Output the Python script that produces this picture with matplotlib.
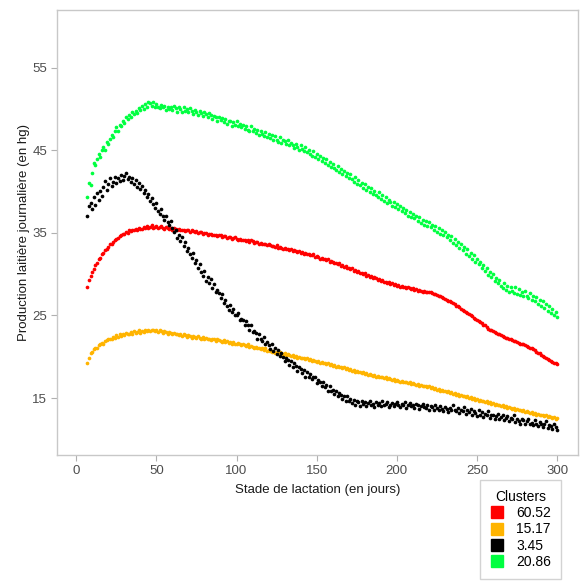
import matplotlib
matplotlib.use("Agg")
import matplotlib.pyplot as plt
from matplotlib.lines import Line2D
import numpy as np

plt.rcParams.update({
    "font.family": ["Liberation Sans", "DejaVu Sans"],
    "font.size": 9.5,
})

# lactation day (x) for every series
days = np.arange(7, 301)

cluster_labels = ["60.52", "15.17", "3.45", "20.86"]
cluster_colors = ["#FF0000", "#FFB400", "#000000", "#00FF40"]

# daily milk yield (hg) per cluster
red = [
    28.5, 29.3, 29.8, 30.3, 30.6, 31.1, 31.4, 31.8, 32.0, 32.4,
    32.6, 32.9, 33.1, 33.3, 33.6, 33.7, 33.9, 34.2, 34.3, 34.4,
    34.6, 34.8, 34.9, 34.9, 35.1, 35.0, 35.3, 35.2, 35.4, 35.3,
    35.5, 35.4, 35.6, 35.5, 35.5, 35.7, 35.6, 35.8, 35.6, 35.7,
    35.9, 35.6, 35.7, 35.8, 35.6, 35.7, 35.8, 35.6, 35.5, 35.7,
    35.6, 35.5, 35.6, 35.4, 35.6, 35.5, 35.4, 35.5, 35.3, 35.4,
    35.4, 35.2, 35.3, 35.3, 35.1, 35.3, 35.2, 35.1, 35.2, 35.0,
    35.1, 35.1, 34.9, 35.0, 35.0, 34.8, 34.9, 34.9, 34.7, 34.8,
    34.8, 34.6, 34.7, 34.7, 34.5, 34.6, 34.6, 34.4, 34.5, 34.5,
    34.3, 34.4, 34.5, 34.3, 34.2, 34.3, 34.1, 34.2, 34.2, 34.0,
    34.1, 33.9, 34.1, 34.0, 33.8, 33.9, 33.9, 33.7, 33.8, 33.6,
    33.7, 33.7, 33.5, 33.6, 33.5, 33.4, 33.4, 33.3, 33.5, 33.2,
    33.3, 33.2, 33.1, 33.2, 33.0, 33.1, 32.9, 33.0, 32.8, 32.9,
    32.8, 32.7, 32.8, 32.6, 32.7, 32.5, 32.6, 32.4, 32.5, 32.3,
    32.3, 32.4, 32.1, 32.2, 32.1, 31.9, 32.0, 31.8, 31.9, 31.7,
    31.8, 31.5, 31.6, 31.5, 31.3, 31.4, 31.2, 31.3, 31.0, 31.1,
    30.9, 31.0, 30.7, 30.8, 30.6, 30.7, 30.4, 30.5, 30.3, 30.4,
    30.1, 30.2, 30.0, 30.1, 29.8, 29.9, 29.7, 29.8, 29.5, 29.6,
    29.5, 29.3, 29.4, 29.2, 29.3, 29.0, 29.1, 28.9, 29.0, 28.8,
    28.9, 28.7, 28.8, 28.6, 28.7, 28.5, 28.6, 28.4, 28.5, 28.3,
    28.4, 28.3, 28.2, 28.3, 28.1, 28.2, 28.0, 28.1, 28.0, 27.9,
    28.0, 27.9, 27.9, 27.8, 27.8, 27.7, 27.6, 27.6, 27.5, 27.4,
    27.3, 27.2, 27.1, 27.0, 26.9, 26.8, 26.7, 26.6, 26.5, 26.4,
    26.2, 26.1, 26.0, 25.8, 25.7, 25.6, 25.4, 25.3, 25.2, 25.0,
    24.9, 24.7, 24.6, 24.5, 24.3, 24.2, 24.1, 23.9, 23.8, 23.6,
    23.4, 23.3, 23.2, 23.1, 23.0, 22.9, 22.8, 22.7, 22.6, 22.5,
    22.4, 22.3, 22.3, 22.2, 22.1, 22.0, 21.9, 21.9, 21.8, 21.7,
    21.6, 21.6, 21.5, 21.4, 21.3, 21.2, 21.1, 21.0, 20.9, 20.8,
    20.6, 20.5, 20.4, 20.2, 20.1, 20.0, 19.8, 19.7, 19.6, 19.5,
    19.4, 19.2, 19.3, 19.1,
]

orange = [
    19.2, 19.9, 20.4, 20.6, 20.9, 21.1, 21.0, 21.4, 21.5, 21.7,
    21.6, 21.9, 22.0, 22.1, 22.2, 22.1, 22.4, 22.3, 22.6, 22.4,
    22.7, 22.5, 22.8, 22.6, 22.9, 22.7, 22.8, 23.0, 22.8, 23.1,
    22.9, 23.0, 23.2, 22.9, 23.1, 23.0, 23.2, 23.1, 23.3, 23.1,
    23.2, 23.3, 23.1, 23.2, 23.0, 23.2, 23.1, 22.9, 23.1, 23.0,
    22.8, 23.0, 22.9, 22.8, 22.9, 22.7, 22.8, 22.6, 22.8, 22.5,
    22.7, 22.6, 22.4, 22.6, 22.5, 22.3, 22.5, 22.4, 22.3, 22.5,
    22.3, 22.2, 22.4, 22.2, 22.3, 22.1, 22.2, 22.0, 22.2, 22.1,
    21.9, 22.1, 22.0, 21.9, 21.8, 22.0, 21.8, 21.9, 21.7, 21.8,
    21.6, 21.8, 21.6, 21.5, 21.7, 21.5, 21.4, 21.6, 21.4, 21.3,
    21.5, 21.2, 21.3, 21.2, 21.1, 21.2, 21.0, 21.1, 20.9, 21.0,
    20.8, 21.0, 20.7, 20.8, 20.7, 20.6, 20.7, 20.5, 20.6, 20.4,
    20.6, 20.4, 20.3, 20.4, 20.2, 20.3, 20.2, 20.1, 20.2, 20.0,
    20.1, 19.9, 20.0, 19.9, 19.8, 19.9, 19.7, 19.8, 19.6, 19.7,
    19.5, 19.6, 19.5, 19.4, 19.5, 19.3, 19.4, 19.2, 19.3, 19.1,
    19.2, 19.0, 19.1, 18.9, 19.0, 18.8, 18.9, 18.7, 18.8, 18.6,
    18.7, 18.5, 18.6, 18.4, 18.5, 18.3, 18.4, 18.2, 18.3, 18.1,
    18.2, 18.0, 18.1, 17.9, 18.0, 17.8, 17.9, 17.8, 17.7, 17.8,
    17.6, 17.7, 17.5, 17.6, 17.5, 17.4, 17.5, 17.3, 17.4, 17.3,
    17.2, 17.3, 17.1, 17.2, 17.1, 17.0, 17.1, 16.9, 17.0, 16.9,
    16.8, 16.9, 16.7, 16.8, 16.7, 16.6, 16.7, 16.5, 16.6, 16.5,
    16.4, 16.5, 16.3, 16.4, 16.2, 16.3, 16.1, 16.2, 16.0, 16.1,
    15.9, 16.0, 15.8, 15.9, 15.7, 15.8, 15.6, 15.7, 15.5, 15.6,
    15.4, 15.5, 15.3, 15.4, 15.2, 15.3, 15.1, 15.2, 15.0, 15.1,
    14.9, 15.0, 14.8, 14.9, 14.7, 14.8, 14.6, 14.7, 14.5, 14.6,
    14.4, 14.5, 14.3, 14.4, 14.2, 14.3, 14.1, 14.2, 14.0, 14.1,
    13.9, 14.0, 13.8, 13.9, 13.8, 13.7, 13.8, 13.6, 13.7, 13.5,
    13.6, 13.4, 13.5, 13.3, 13.4, 13.3, 13.2, 13.3, 13.1, 13.2,
    13.0, 13.1, 12.9, 13.0, 12.9, 12.8, 12.9, 12.7, 12.8, 12.7,
    12.6, 12.7, 12.5, 12.6,
]

black = [
    37.1, 38.2, 38.6, 37.9, 39.3, 38.4, 39.8, 39.0, 40.1, 39.5,
    40.6, 41.3, 40.2, 40.9, 41.6, 40.7, 41.2, 41.8, 41.0, 41.7,
    41.3, 42.0, 41.4, 41.9, 42.3, 41.5, 41.8, 41.2, 41.7, 40.9,
    41.4, 40.6, 41.0, 40.3, 40.7, 39.8, 40.2, 39.4, 39.7, 38.9,
    39.2, 38.5, 38.0, 38.6, 37.7, 37.3, 37.9, 37.0, 36.6, 37.1,
    36.3, 35.9, 36.4,
    35.6, 35.1, 35.3, 34.4, 34.8, 34.0, 34.5, 33.4, 33.9, 32.8,
    33.2, 32.5, 32.0, 32.6, 31.4, 31.7, 30.8, 31.2, 30.3, 29.8,
    30.4, 29.2, 29.6, 28.9, 29.4, 28.3, 28.8, 27.8, 28.1, 27.7,
    27.1, 27.6, 26.5, 26.9, 26.2, 25.7, 26.3, 25.4, 25.8, 25.1,
    25.0, 25.3, 24.4, 24.6, 24.5, 23.8, 24.3, 23.9, 23.2, 23.8,
    23.0, 23.1, 22.9, 22.2, 22.8, 22.1, 21.9, 22.4, 21.5, 21.8,
    21.4, 20.9, 21.5, 20.7, 21.0, 20.3, 20.8, 20.1, 20.4, 20.0,
    19.5, 19.9, 19.6, 19.0, 19.5, 18.8, 19.2, 18.9, 18.3, 18.8,
    18.5, 18.0, 18.4, 17.6, 18.2, 17.5, 17.9, 17.3, 17.6, 17.5,
    16.8, 17.2, 16.9, 16.4, 17.0, 16.3, 16.6, 15.9, 16.5, 15.8,
    16.0, 15.5, 15.9, 15.2, 15.6, 15.4, 14.9, 15.3, 14.7, 15.2,
    14.6, 14.9, 14.4, 14.8, 14.2, 14.7, 14.5, 14.0, 14.6, 14.3,
    14.5, 14.0, 14.4, 14.6, 14.1, 14.3, 13.9, 14.5, 14.2, 14.4,
    14.0, 14.6, 14.1, 14.3, 14.5, 13.9, 14.2, 14.4, 14.0, 14.3,
    14.5, 14.1, 13.9, 14.3, 14.2, 14.5, 13.8, 14.1, 14.4, 14.0,
    14.2, 13.8, 14.3, 14.1, 13.7, 14.0, 14.3, 13.9, 13.8, 14.2,
    13.6, 14.0, 13.9, 13.5, 14.1, 13.8, 13.6, 14.0, 13.7, 13.4,
    13.9, 13.7, 13.3, 13.8, 13.6, 14.1, 13.5, 13.4, 13.8, 13.2,
    13.6, 13.4, 13.9, 13.1, 13.5, 13.3, 13.7, 12.9, 13.4, 13.2,
    12.8, 13.5, 13.0, 13.3, 12.7, 13.1, 12.9, 13.4, 12.6, 12.9,
    13.0, 12.5, 12.8, 13.1, 12.4, 12.7, 12.9, 12.3, 12.6, 12.8,
    12.2, 12.6, 12.4, 12.9, 12.1, 12.5, 12.2, 11.9, 12.4, 12.3,
    11.8, 12.2, 12.5, 11.9, 12.0, 11.7, 12.3, 11.8, 11.6, 12.1,
    11.9, 11.5, 11.8, 12.2, 11.4, 11.7, 11.6, 11.2, 11.9, 11.5,
    11.1,
]

green = [
    39.4, 41.1, 40.8, 42.3, 43.5, 43.2, 43.9, 44.5, 44.2, 45.0,
    45.4, 45.1, 46.0, 45.8, 46.4, 46.9, 46.6, 47.3, 47.8, 47.4,
    48.1, 47.9, 48.5, 48.3, 49.1, 48.8, 49.3, 49.0, 49.6, 49.4,
    49.8, 49.5, 50.1, 49.9, 50.4, 50.0, 50.6, 50.3, 50.9, 50.7,
    50.4, 50.8, 50.2, 50.6, 50.3, 50.1, 50.5, 50.2, 50.4, 49.9,
    50.3, 50.0, 50.2,
    49.9, 50.4, 50.1, 49.6, 50.2, 50.0, 49.7, 50.3, 49.8, 50.0,
    49.6, 50.1, 49.8, 49.4, 49.9, 49.7, 49.3, 49.8, 49.5, 49.2,
    49.7, 49.4, 49.0, 49.5, 49.3, 48.8, 49.2, 49.0, 48.6, 49.1,
    48.7, 48.9, 48.4, 48.8, 48.2, 48.6, 48.5, 48.0, 48.4, 48.1,
    48.5, 47.9, 48.2, 47.8, 48.1, 47.6, 47.9, 47.5, 47.3, 47.9,
    47.4, 47.6, 47.1, 47.5, 46.9, 47.3, 47.0, 46.7, 47.2, 46.6,
    47.0, 46.5, 46.8, 46.3, 46.7, 46.2, 46.0, 46.6, 45.9, 46.3,
    46.1, 45.8, 46.2, 45.6, 45.9, 45.7, 45.3, 45.8, 45.4, 45.1,
    45.6, 45.2, 44.9, 45.4, 44.8, 45.0, 44.6, 44.3, 44.9, 44.2,
    44.6, 44.0, 44.3, 43.7, 44.1, 43.5, 43.9, 43.2, 43.6, 43.0,
    43.4, 42.9, 42.6, 43.1, 42.4, 42.8, 42.1, 42.5, 41.9, 42.3,
    41.7, 42.1, 41.5, 41.2, 41.8, 40.9, 41.4, 40.8, 41.0, 40.4,
    40.9, 40.2, 40.6, 39.9, 40.4, 39.7, 40.1, 39.6, 39.3, 39.9,
    39.1, 39.6, 38.9, 39.3, 38.6, 39.0, 38.7, 38.3, 38.8, 38.1,
    38.5, 37.9, 38.3, 37.6, 38.0, 37.4, 37.8, 37.1, 37.5, 36.9,
    37.3, 36.8, 37.0, 36.4, 36.9, 36.2, 36.6, 36.0, 36.4, 35.8,
    36.3, 35.7, 35.9, 35.4, 35.8, 35.1, 35.6, 34.9, 35.3, 34.7,
    35.1, 34.5, 34.8, 34.1, 34.6, 33.8, 34.3, 33.5, 33.9, 33.2,
    33.7, 32.9, 33.3, 32.5, 33.0, 32.2, 32.6, 31.8, 32.3, 31.5,
    31.9, 31.2, 31.5, 30.7, 31.1, 30.4, 30.8, 29.9, 30.3, 29.6,
    30.0, 29.2, 29.5, 28.9, 29.3, 28.6, 28.3, 28.9, 28.1, 28.6,
    27.9, 28.5, 28.0, 27.7, 28.4, 27.6, 28.2, 27.5, 27.9, 27.3,
    28.0, 27.4, 27.1, 27.7, 26.9, 27.4, 26.7, 27.2, 26.4, 26.9,
    26.2, 26.7, 25.9, 26.4, 25.6, 26.1, 25.3, 25.8, 25.0, 25.4,
    24.8,
]

series = [red, orange, black, green]

fig = plt.figure(figsize=(5.82, 5.85), dpi=100)
ax = fig.add_axes([57 / 582, 1 - 455 / 585, 521 / 582, 445 / 585])

for vals, col in zip(series, cluster_colors):
    ax.scatter(days, vals, s=7, color=col, linewidths=0, zorder=3)

ax.set_xlim(-12, 313)
ax.set_ylim(8.1, 62.0)
ax.set_xticks([0, 50, 100, 150, 200, 250, 300])
ax.set_yticks([15, 25, 35, 45, 55])

for side in ax.spines.values():
    side.set_color("#C8C8C8")
    side.set_linewidth(1.0)
ax.tick_params(axis="both", direction="out", length=4, width=0.8,
               color="#B0B0B0", labelcolor="#4D4D4D", labelsize=9.5, pad=3)

ax.set_xlabel("Stade de lactation (en jours)", fontsize=9.5, color="#1A1A1A", labelpad=5)
ax.set_ylabel("Production laitière journalière (en hg)", fontsize=9.5, color="#1A1A1A", labelpad=2)

handles = [
    Line2D([0], [0], marker="s", linestyle="none", markersize=8,
           markerfacecolor=c, markeredgecolor=c)
    for c in cluster_colors
]
leg = fig.legend(handles, cluster_labels, title="Clusters",
                 loc="upper left", bbox_to_anchor=(480 / 582, 1 - 480 / 585),
                 frameon=True, fancybox=False, fontsize=10, title_fontsize=10,
                 handlelength=1.0, handletextpad=0.9, labelspacing=0.17,
                 borderpad=0.7, borderaxespad=0)
leg.get_frame().set_edgecolor("#C8C8C8")
leg.get_frame().set_linewidth(1.0)

fig.savefig("out.png", dpi=100)
